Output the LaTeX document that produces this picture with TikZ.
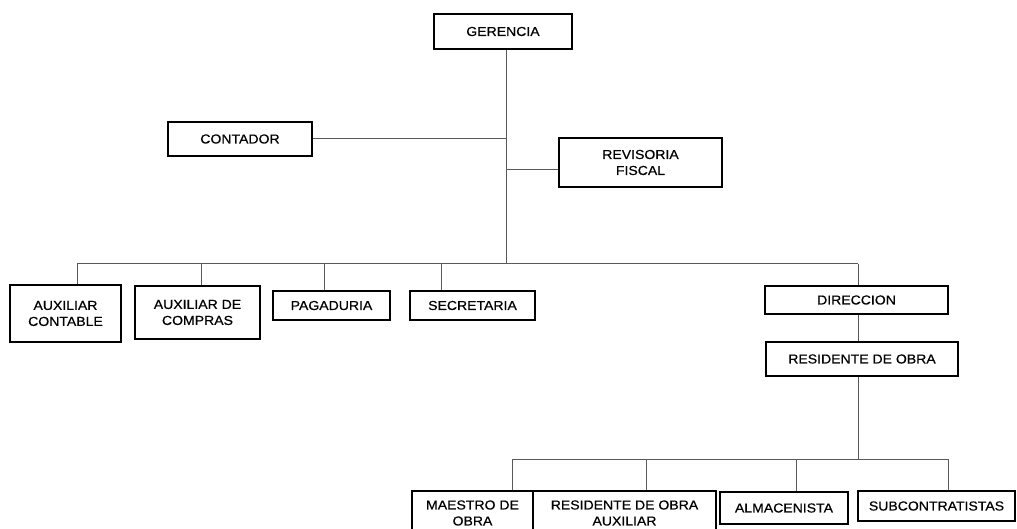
\documentclass[tikz,border=0pt]{standalone}
\usepackage{fontspec}
\setmainfont[FakeStretch=1.08,FakeBold=0.5]{Liberation Sans}
\begin{document}
\begin{tikzpicture}[x=1pt,y=1pt,
  orgbox/.style={draw=black, line width=2.4pt, fill=white, inner sep=0pt, align=center,
    font=\fontsize{13}{16}\selectfont},
  conn/.style={draw=black!65, line width=1pt}]
\useasboundingbox (0,0) rectangle (1017,-529);
\clip (0,0) rectangle (1017,-529);
% nodes
\node[orgbox, minimum width=138pt, minimum height=35pt] (ger) at (503,-31.5) {GERENCIA};
\node[orgbox, minimum width=144pt, minimum height=34pt] (cont) at (240,-139) {CONTADOR};
\node[orgbox, minimum width=163pt, minimum height=49pt] (rev) at (640.5,-162.5) {REVISORIA\\FISCAL};
\node[orgbox, minimum width=111pt, minimum height=57pt] (auxc) at (65.5,-313.5) {AUXILIAR\\CONTABLE};
\node[orgbox, minimum width=125pt, minimum height=53pt] (auxcomp) at (197.5,-312.5) {AUXILIAR DE\\COMPRAS};
\node[orgbox, minimum width=117pt, minimum height=29pt] (pag) at (331.5,-305.5) {PAGADURIA};
\node[orgbox, minimum width=125pt, minimum height=29pt] (sec) at (472.5,-305.5) {SECRETARIA};
\node[orgbox, minimum width=183pt, minimum height=28pt] (dir) at (856.5,-300) {DIRECCION};
\node[orgbox, minimum width=192pt, minimum height=34pt] (res) at (862,-359) {RESIDENTE DE OBRA};
\node[orgbox, minimum width=121pt, minimum height=44pt] (mae) at (472.5,-513) {MAESTRO DE\\OBRA};
\node[orgbox, minimum width=183pt, minimum height=44pt] (resaux) at (624.5,-513) {RESIDENTE DE OBRA\\AUXILIAR};
\node[orgbox, minimum width=128pt, minimum height=32pt] (alm) at (784,-508) {ALMACENISTA};
\node[orgbox, minimum width=157pt, minimum height=30pt] (sub) at (936.5,-506) {SUBCONTRATISTAS};
% bus coordinates
\coordinate (t1) at (506,-264);
\coordinate (bl) at (77,-264);
\coordinate (br) at (858,-264);
\coordinate (t2) at (858,-459);
\coordinate (b2l) at (512,-459);
\coordinate (b2r) at (948,-459);
\coordinate (revy) at (0,-170);
% connectors
\draw[conn] (ger.south -| t1) -- (t1);
\draw[conn] (cont.east) -- (cont.east -| t1);
\draw[conn] (revy -| t1) -- (revy -| rev.west);
\draw[conn] (bl) -- (br);
\draw[conn] (bl) -- (bl |- auxc.north);
\draw[conn] (201,-264) -- (201,-264 |- auxcomp.north);
\draw[conn] (324,-264) -- (324,-264 |- pag.north);
\draw[conn] (441,-264) -- (441,-264 |- sec.north);
\draw[conn] (br) -- (br |- dir.north);
\draw[conn] (br |- dir.south) -- (br |- res.north);
\draw[conn] (br |- res.south) -- (t2);
\draw[conn] (b2l) -- (b2r);
\draw[conn] (b2l) -- (b2l |- mae.north);
\draw[conn] (646,-459) -- (646,-459 |- resaux.north);
\draw[conn] (796,-459) -- (796,-459 |- alm.north);
\draw[conn] (b2r) -- (b2r |- sub.north);
\end{tikzpicture}
\end{document}
